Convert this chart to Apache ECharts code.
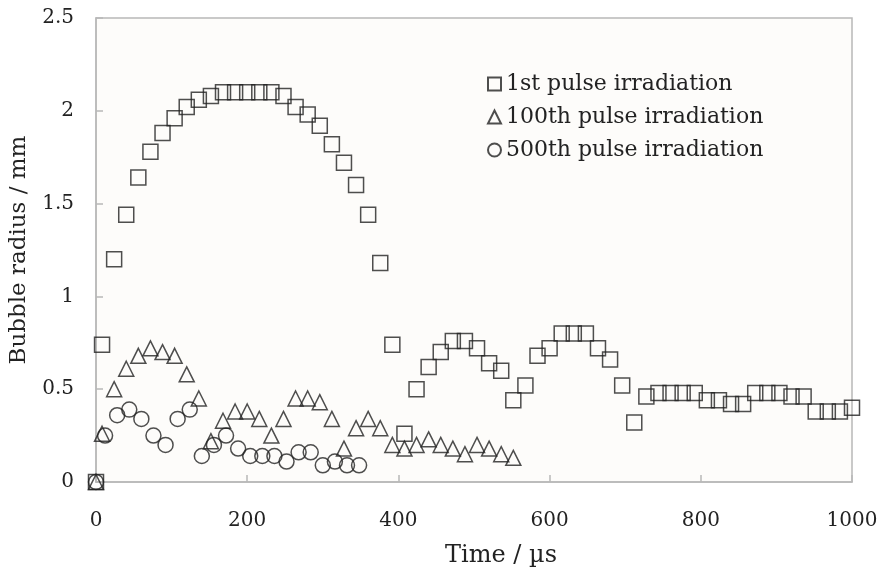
<!DOCTYPE html>
<html>
<head>
<meta charset="utf-8">
<script src="https://cdn.jsdelivr.net/npm/echarts@6/dist/echarts.min.js"></script>
<style>
  html, body { margin: 0; padding: 0; background: #fff; }
  #main { width: 882px; height: 576px; }
</style>
</head>
<body>
<div id="main"></div>
<script>
// 1st pulse (squares)
var time1 = [0, 8, 24, 40, 56, 72, 88, 104, 120, 136, 152, 168, 184, 200, 216, 232, 248, 264, 280, 296,
  312, 328, 344, 360, 376, 392, 408, 424, 440, 456, 472, 488, 504, 520, 536, 552, 568, 584, 600, 616,
  632, 648, 664, 680, 696, 712, 728, 744, 760, 776, 792, 808, 824, 840, 856, 872, 888, 904, 920, 936,
  952, 968, 984, 1000];
var radius1 = [0, 0.74, 1.20, 1.44, 1.64, 1.78, 1.88, 1.96, 2.02, 2.06, 2.08, 2.10, 2.10, 2.10, 2.10, 2.10, 2.08, 2.02, 1.98, 1.92,
  1.82, 1.72, 1.60, 1.44, 1.18, 0.74, 0.26, 0.50, 0.62, 0.70, 0.76, 0.76, 0.72, 0.64, 0.60, 0.44, 0.52, 0.68, 0.72, 0.80,
  0.80, 0.80, 0.72, 0.66, 0.52, 0.32, 0.46, 0.48, 0.48, 0.48, 0.48, 0.44, 0.44, 0.42, 0.42, 0.48, 0.48, 0.48, 0.46, 0.46,
  0.38, 0.38, 0.38, 0.40];

// 100th pulse (triangles)
var time100 = [0, 8, 24, 40, 56, 72, 88, 104, 120, 136, 152, 168, 184, 200, 216, 232, 248, 264, 280, 296,
  312, 328, 344, 360, 376, 392, 408, 424, 440, 456, 472, 488, 504, 520, 536, 552];
var radius100 = [0, 0.26, 0.50, 0.61, 0.68, 0.72, 0.70, 0.68, 0.58, 0.45, 0.22, 0.33, 0.38, 0.38, 0.34, 0.25, 0.34, 0.45, 0.45, 0.43,
  0.34, 0.18, 0.29, 0.34, 0.29, 0.20, 0.18, 0.20, 0.23, 0.20, 0.18, 0.15, 0.20, 0.18, 0.15, 0.13];

// 500th pulse (circles)
var time500 = [0, 12, 28, 44, 60, 76, 92, 108, 124, 140, 156, 172, 188, 204, 220, 236, 252, 268, 284, 300, 316, 332, 348];
var radius500 = [0, 0.25, 0.36, 0.39, 0.34, 0.25, 0.20, 0.34, 0.39, 0.14, 0.20, 0.25, 0.18, 0.14, 0.14, 0.14, 0.11, 0.16, 0.16, 0.09, 0.11, 0.09, 0.09];

var xTicks = [0, 200, 400, 600, 800, 1000];
var yTicks = [0, 0.5, 1, 1.5, 2, 2.5];

var seriesNames = ['1st pulse irradiation', '100th pulse irradiation', '500th pulse irradiation'];

function pairs(xs, ys) {
  return xs.map(function (x, i) { return [x, ys[i]]; });
}

var font = '"DejaVu Serif", "Liberation Serif", serif';
var ink = '#222';
var markerStyle = { color: 'rgba(0,0,0,0)', borderColor: ink, borderWidth: 1.5 };

var option = {
  backgroundColor: '#fff',
  animation: false,
  textStyle: { fontFamily: font, color: ink },
  grid: {
    left: 96, right: 30, top: 18, bottom: 94,
    show: true, backgroundColor: '#fdfcfa', borderColor: '#b8b8b8', borderWidth: 1.5
  },
  legend: {
    orient: 'vertical',
    left: 482, top: 68,
    itemWidth: 13, itemHeight: 13, itemGap: 11,
    textStyle: { fontFamily: font, fontSize: 22, color: ink },
    data: seriesNames
  },
  xAxis: {
    type: 'value', min: 0, max: 1000, interval: 200,
    name: 'Time / µs', nameLocation: 'middle', nameGap: 62,
    nameTextStyle: { fontFamily: font, fontSize: 24, color: ink, padding: [0, 0, 0, 54] },
    axisLine: { lineStyle: { color: '#b8b8b8', width: 1.5 } },
    axisTick: { inside: true, length: 7, lineStyle: { color: '#b8b8b8', width: 1.5 } },
    axisLabel: { margin: 29, fontSize: 20, color: ink, fontFamily: font,
      formatter: function (v) { return xTicks.indexOf(v) >= 0 ? String(v) : ''; } },
    splitLine: { show: false }
  },
  yAxis: {
    type: 'value', min: 0, max: 2.5, interval: 0.5,
    name: 'Bubble radius / mm', nameLocation: 'middle', nameGap: 65, nameRotate: 90,
    nameTextStyle: { fontFamily: font, fontSize: 23, color: ink },
    axisLine: { lineStyle: { color: '#b8b8b8', width: 1.5 } },
    axisTick: { inside: true, length: 7, lineStyle: { color: '#b8b8b8', width: 1.5 } },
    axisLabel: { margin: 22, fontSize: 20, color: ink, fontFamily: font,
      formatter: function (v) { return yTicks.indexOf(v) >= 0 ? String(v) : ''; } },
    splitLine: { show: false }
  },
  series: [
    {
      name: seriesNames[0], type: 'scatter', symbol: 'rect', symbolSize: 15,
      itemStyle: markerStyle, data: pairs(time1, radius1)
    },
    {
      name: seriesNames[1], type: 'scatter', symbol: 'triangle', symbolSize: 15,
      itemStyle: markerStyle, data: pairs(time100, radius100)
    },
    {
      name: seriesNames[2], type: 'scatter', symbol: 'circle', symbolSize: 15,
      itemStyle: markerStyle, data: pairs(time500, radius500)
    }
  ]
};

var chart = echarts.init(document.getElementById('main'));
chart.setOption(option);
</script>
</body>
</html>
